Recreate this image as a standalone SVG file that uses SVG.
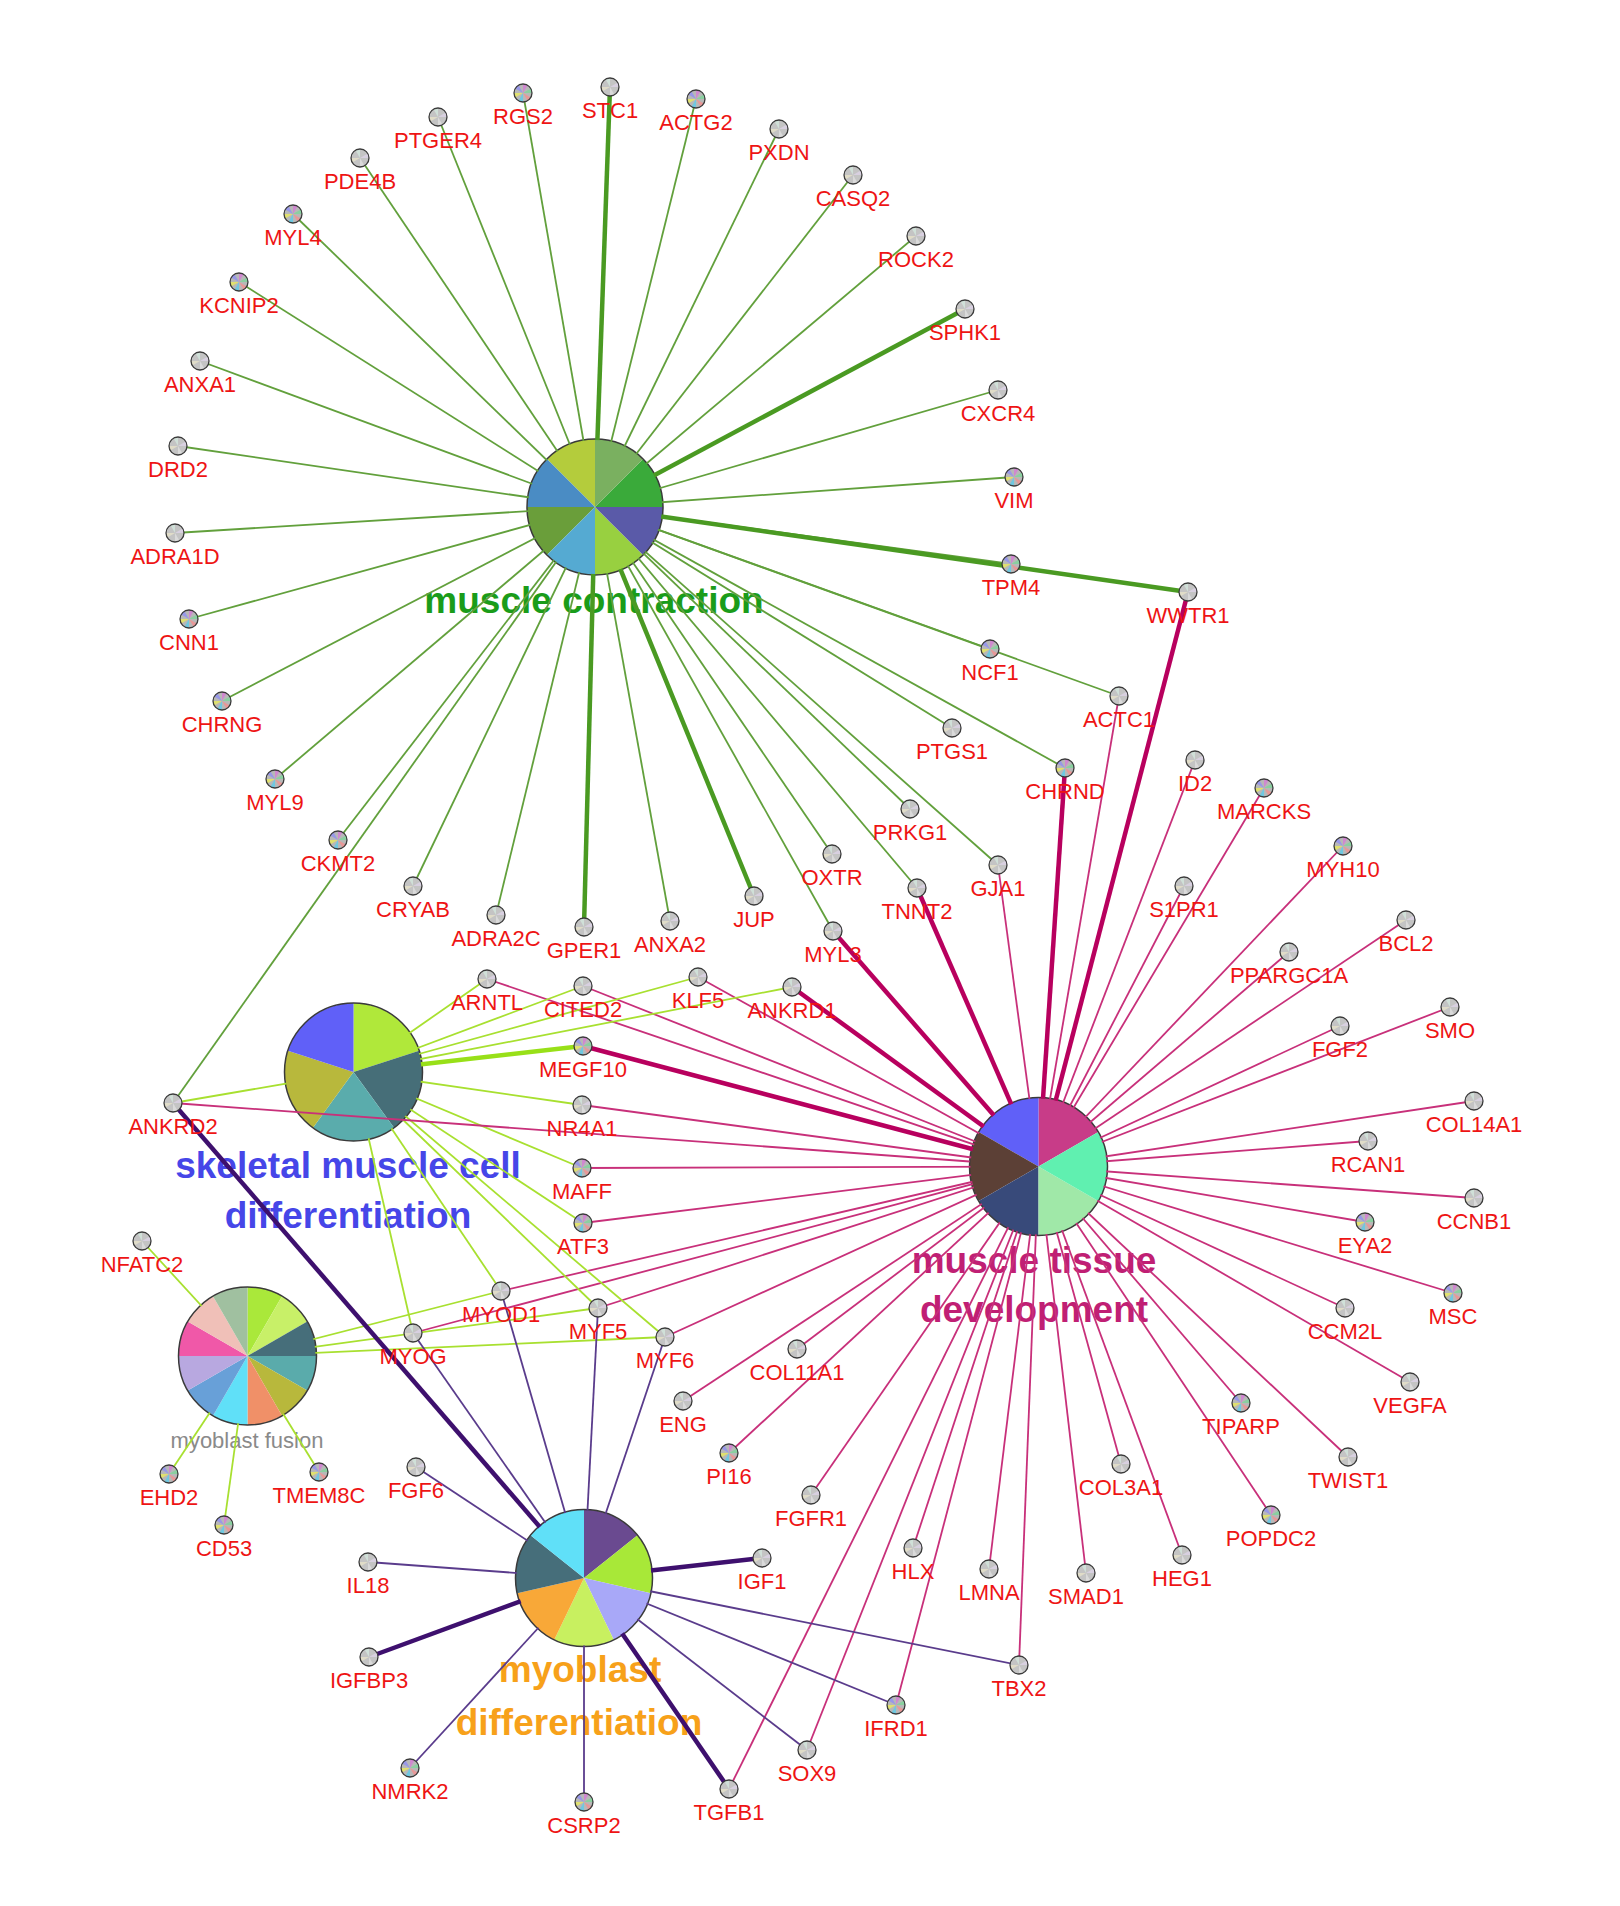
<svg xmlns="http://www.w3.org/2000/svg" xmlns:xlink="http://www.w3.org/1999/xlink" width="1620" height="1906" viewBox="0 0 1620 1906">
<style>
line{fill:none}
.mc{stroke:#62a03c;stroke-width:1.8}
.mcT{stroke:#4a9a22;stroke-width:4.5}
.mt{stroke:#c8307a;stroke-width:1.8}
.mtT{stroke:#b8005e;stroke-width:4.5}
.sk{stroke:#a8e030;stroke-width:1.8}
.skT{stroke:#98e018;stroke-width:4.5}
.md{stroke:#5a3c8c;stroke-width:1.8}
.mdT{stroke:#3e106e;stroke-width:4.5}
.mf{stroke:#a8e030;stroke-width:1.8}
.gl{font-family:"Liberation Sans",Arial,sans-serif;font-size:22px;fill:#ee1414;text-anchor:middle}
.hl{font-family:"Liberation Sans",Arial,sans-serif;font-size:37px;font-weight:bold;text-anchor:middle}
.ho{fill:none;stroke:#3a3a3a;stroke-width:1.5}
</style>
<defs>
<g id="gn">
<circle r="9" fill="#c4c4c4"/>
<path d="M0 0L9 0A9 9 0 0 0 7.79 -4.5Z" fill="#d8d0e0"/>
<path d="M0 0L0 -9A9 9 0 0 0 -4.5 -7.79Z" fill="#d0e0d8"/>
<path d="M0 0L-9 0A9 9 0 0 0 -7.79 4.5Z" fill="#e0dcc8"/>
<path d="M0 0L0 9A9 9 0 0 0 4.5 7.79Z" fill="#dadada"/>
<circle r="9" fill="none" stroke="#3a3a3a" stroke-width="1.3"/>
</g>
<g id="gc">
<circle r="9" fill="#b8b8b8"/>
<path d="M0 0L9 0A9 9 0 0 0 7.79 -4.5Z" fill="#8ad0a0"/>
<path d="M0 0L4.5 -7.79A9 9 0 0 0 0 -9Z" fill="#d088d0"/>
<path d="M0 0L-4.5 -7.79A9 9 0 0 0 -7.79 -4.5Z" fill="#9898e8"/>
<path d="M0 0L-9 0A9 9 0 0 0 -7.79 4.5Z" fill="#e0e070"/>
<path d="M0 0L-4.5 7.79A9 9 0 0 0 0 9Z" fill="#70c8e0"/>
<path d="M0 0L4.5 7.79A9 9 0 0 0 7.79 4.5Z" fill="#e89898"/>
<circle r="9" fill="none" stroke="#3a3a3a" stroke-width="1.3"/>
</g>
<mask id="hm" maskUnits="userSpaceOnUse" x="0" y="0" width="1620" height="1906">
<rect width="1620" height="1906" fill="#fff"/>
<circle cx="595" cy="507" r="67" fill="#000"/>
<circle cx="353.5" cy="1072" r="68" fill="#000"/>
<circle cx="1038.5" cy="1166.5" r="68" fill="#000"/>
<circle cx="584" cy="1578" r="67.5" fill="#000"/>
<circle cx="247.5" cy="1356" r="68" fill="#000"/>
</mask>
</defs>
<rect width="1620" height="1906" fill="#fff"/>

<g id="hub-muscle-contraction">
<g transform="translate(595 507)">
<path d="M0 0L68 0A68 68 0 0 0 48.08 -48.08Z" fill="#3aaa3a"/>
<path d="M0 0L48.08 -48.08A68 68 0 0 0 0 -68Z" fill="#7ab060"/>
<path d="M0 0L0 -68A68 68 0 0 0 -48.08 -48.08Z" fill="#b4cc3c"/>
<path d="M0 0L-48.08 -48.08A68 68 0 0 0 -68 0Z" fill="#4a8cc4"/>
<path d="M0 0L-68 0A68 68 0 0 0 -48.08 48.08Z" fill="#6a9e3a"/>
<path d="M0 0L-48.08 48.08A68 68 0 0 0 0 68Z" fill="#55aad2"/>
<path d="M0 0L0 68A68 68 0 0 0 48.08 48.08Z" fill="#98d040"/>
<path d="M0 0L48.08 48.08A68 68 0 0 0 68 0Z" fill="#5a5aa8"/>
<circle r="68" class="ho"/>
</g>
<text class="hl" x="594" y="613" fill="#1a9c1a">muscle contraction</text>
</g>

<g id="hub-skeletal-muscle-cell-differentiation">
<g transform="translate(353.5 1072)">
<path d="M0 0L65.62 -21.32A69 69 0 0 0 0 -69Z" fill="#b0e83a"/>
<path d="M0 0L40.56 55.82A69 69 0 0 0 65.62 -21.32Z" fill="#466e78"/>
<path d="M0 0L-40.56 55.82A69 69 0 0 0 40.56 55.82Z" fill="#5aacac"/>
<path d="M0 0L-65.62 -21.32A69 69 0 0 0 -40.56 55.82Z" fill="#b8b83c"/>
<path d="M0 0L0 -69A69 69 0 0 0 -65.62 -21.32Z" fill="#6060f8"/>
<circle r="69" class="ho"/>
</g>
<text class="hl" x="348" y="1178" fill="#4646e8">skeletal muscle cell</text>
<text class="hl" x="348" y="1228" fill="#4646e8">differentiation</text>
</g>

<g id="hub-muscle-tissue-development">
<g transform="translate(1038.5 1166.5)">
<path d="M0 0L59.76 -34.5A69 69 0 0 0 0 -69Z" fill="#c83c88"/>
<path d="M0 0L0 -69A69 69 0 0 0 -59.76 -34.5Z" fill="#6060f8"/>
<path d="M0 0L-59.76 -34.5A69 69 0 0 0 -59.76 34.5Z" fill="#5c4036"/>
<path d="M0 0L-59.76 34.5A69 69 0 0 0 0 69Z" fill="#384a7a"/>
<path d="M0 0L0 69A69 69 0 0 0 59.76 34.5Z" fill="#a0e8a8"/>
<path d="M0 0L59.76 34.5A69 69 0 0 0 59.76 -34.5Z" fill="#60f0b0"/>
<circle r="69" class="ho"/>
</g>
<text class="hl" x="1034" y="1273" fill="#c01f74">muscle tissue</text>
<text class="hl" x="1034" y="1322" fill="#c01f74">development</text>
</g>

<g id="hub-myoblast-differentiation">
<g transform="translate(584 1578)">
<path d="M0 0L53.53 -42.71A68.5 68.5 0 0 0 0 -68.5Z" fill="#6a4a90"/>
<path d="M0 0L66.78 15.24A68.5 68.5 0 0 0 53.53 -42.71Z" fill="#a8e838"/>
<path d="M0 0L29.72 61.72A68.5 68.5 0 0 0 66.78 15.24Z" fill="#a8a8f8"/>
<path d="M0 0L-29.72 61.72A68.5 68.5 0 0 0 29.72 61.72Z" fill="#c8f060"/>
<path d="M0 0L-66.78 15.24A68.5 68.5 0 0 0 -29.72 61.72Z" fill="#f8a838"/>
<path d="M0 0L-53.53 -42.71A68.5 68.5 0 0 0 -66.78 15.24Z" fill="#466e7a"/>
<path d="M0 0L0 -68.5A68.5 68.5 0 0 0 -53.53 -42.71Z" fill="#60e0f8"/>
<circle r="68.5" class="ho"/>
</g>
<text class="hl" x="580" y="1682" fill="#f7a11a">myoblast</text>
<text class="hl" x="579" y="1735" fill="#f7a11a">differentiation</text>
</g>

<g id="hub-myoblast-fusion">
<g transform="translate(247.5 1356)">
<path d="M0 0L34.5 -59.76A69 69 0 0 0 0 -69Z" fill="#aae83a"/>
<path d="M0 0L59.76 -34.5A69 69 0 0 0 34.5 -59.76Z" fill="#c8f068"/>
<path d="M0 0L69 0A69 69 0 0 0 59.76 -34.5Z" fill="#466e7a"/>
<path d="M0 0L59.76 34.5A69 69 0 0 0 69 0Z" fill="#5aabab"/>
<path d="M0 0L34.5 59.76A69 69 0 0 0 59.76 34.5Z" fill="#b8b83c"/>
<path d="M0 0L0 69A69 69 0 0 0 34.5 59.76Z" fill="#f09068"/>
<path d="M0 0L-34.5 59.76A69 69 0 0 0 0 69Z" fill="#60e0f8"/>
<path d="M0 0L-59.76 34.5A69 69 0 0 0 -34.5 59.76Z" fill="#68a0d8"/>
<path d="M0 0L-69 0A69 69 0 0 0 -59.76 34.5Z" fill="#b8a8e0"/>
<path d="M0 0L-59.76 -34.5A69 69 0 0 0 -69 0Z" fill="#f058a8"/>
<path d="M0 0L-34.5 -59.76A69 69 0 0 0 -59.76 -34.5Z" fill="#f0c0b8"/>
<path d="M0 0L0 -69A69 69 0 0 0 -34.5 -59.76Z" fill="#a0c0a0"/>
<circle r="69" class="ho"/>
</g>
<text x="247" y="1448" font-family="Liberation Sans, Arial, sans-serif" font-size="22" fill="#8a8a8a" text-anchor="middle">myoblast fusion</text>
</g>

<g id="connectors">
<g mask="url(#hm)">
<line class="mc" x1="595" y1="507" x2="523" y2="93"/>
<line class="mc" x1="595" y1="507" x2="696" y2="99"/>
<line class="mc" x1="595" y1="507" x2="779" y2="129"/>
<line class="mc" x1="595" y1="507" x2="853" y2="175"/>
<line class="mc" x1="595" y1="507" x2="916" y2="236"/>
<line class="mc" x1="595" y1="507" x2="998" y2="390"/>
<line class="mc" x1="595" y1="507" x2="1014" y2="477"/>
<line class="mc" x1="595" y1="507" x2="1011" y2="564"/>
<line class="mc" x1="595" y1="507" x2="990" y2="649"/>
<line class="mc" x1="595" y1="507" x2="1119" y2="696"/>
<line class="mc" x1="595" y1="507" x2="952" y2="728"/>
<line class="mc" x1="595" y1="507" x2="1065" y2="768"/>
<line class="mc" x1="595" y1="507" x2="910" y2="809"/>
<line class="mc" x1="595" y1="507" x2="998" y2="865"/>
<line class="mc" x1="595" y1="507" x2="832" y2="854"/>
<line class="mc" x1="595" y1="507" x2="917" y2="888"/>
<line class="mc" x1="595" y1="507" x2="833" y2="931"/>
<line class="mc" x1="595" y1="507" x2="670" y2="921"/>
<line class="mc" x1="595" y1="507" x2="496" y2="915"/>
<line class="mc" x1="595" y1="507" x2="413" y2="886"/>
<line class="mc" x1="595" y1="507" x2="338" y2="840"/>
<line class="mc" x1="595" y1="507" x2="173" y2="1103"/>
<line class="mc" x1="595" y1="507" x2="275" y2="779"/>
<line class="mc" x1="595" y1="507" x2="222" y2="701"/>
<line class="mc" x1="595" y1="507" x2="189" y2="619"/>
<line class="mc" x1="595" y1="507" x2="175" y2="533"/>
<line class="mc" x1="595" y1="507" x2="178" y2="446"/>
<line class="mc" x1="595" y1="507" x2="200" y2="361"/>
<line class="mc" x1="595" y1="507" x2="239" y2="282"/>
<line class="mc" x1="595" y1="507" x2="293" y2="214"/>
<line class="mc" x1="595" y1="507" x2="360" y2="158"/>
<line class="mc" x1="595" y1="507" x2="438" y2="117"/>
<line class="mcT" x1="595" y1="507" x2="610" y2="87"/>
<line class="mcT" x1="595" y1="507" x2="965" y2="309"/>
<line class="mcT" x1="595" y1="507" x2="1188" y2="592"/>
<line class="mcT" x1="595" y1="507" x2="754" y2="896"/>
<line class="mcT" x1="595" y1="507" x2="584" y2="927"/>

<line class="mt" x1="1038.5" y1="1166.5" x2="1119" y2="696"/>
<line class="mt" x1="1038.5" y1="1166.5" x2="998" y2="865"/>
<line class="mt" x1="1038.5" y1="1166.5" x2="1195" y2="760"/>
<line class="mt" x1="1038.5" y1="1166.5" x2="1264" y2="788"/>
<line class="mt" x1="1038.5" y1="1166.5" x2="1343" y2="846"/>
<line class="mt" x1="1038.5" y1="1166.5" x2="1184" y2="886"/>
<line class="mt" x1="1038.5" y1="1166.5" x2="1406" y2="920"/>
<line class="mt" x1="1038.5" y1="1166.5" x2="1289" y2="952"/>
<line class="mt" x1="1038.5" y1="1166.5" x2="1450" y2="1007"/>
<line class="mt" x1="1038.5" y1="1166.5" x2="1340" y2="1026"/>
<line class="mt" x1="1038.5" y1="1166.5" x2="1474" y2="1101"/>
<line class="mt" x1="1038.5" y1="1166.5" x2="1368" y2="1141"/>
<line class="mt" x1="1038.5" y1="1166.5" x2="1474" y2="1198"/>
<line class="mt" x1="1038.5" y1="1166.5" x2="1365" y2="1222"/>
<line class="mt" x1="1038.5" y1="1166.5" x2="1453" y2="1293"/>
<line class="mt" x1="1038.5" y1="1166.5" x2="1345" y2="1308"/>
<line class="mt" x1="1038.5" y1="1166.5" x2="1410" y2="1382"/>
<line class="mt" x1="1038.5" y1="1166.5" x2="1241" y2="1403"/>
<line class="mt" x1="1038.5" y1="1166.5" x2="1348" y2="1457"/>
<line class="mt" x1="1038.5" y1="1166.5" x2="1271" y2="1515"/>
<line class="mt" x1="1038.5" y1="1166.5" x2="1121" y2="1464"/>
<line class="mt" x1="1038.5" y1="1166.5" x2="1182" y2="1555"/>
<line class="mt" x1="1038.5" y1="1166.5" x2="1086" y2="1573"/>
<line class="mt" x1="1038.5" y1="1166.5" x2="989" y2="1569"/>
<line class="mt" x1="1038.5" y1="1166.5" x2="913" y2="1548"/>
<line class="mt" x1="1038.5" y1="1166.5" x2="1019" y2="1665"/>
<line class="mt" x1="1038.5" y1="1166.5" x2="896" y2="1705"/>
<line class="mt" x1="1038.5" y1="1166.5" x2="807" y2="1750"/>
<line class="mt" x1="1038.5" y1="1166.5" x2="729" y2="1789"/>
<line class="mt" x1="1038.5" y1="1166.5" x2="811" y2="1495"/>
<line class="mt" x1="1038.5" y1="1166.5" x2="729" y2="1453"/>
<line class="mt" x1="1038.5" y1="1166.5" x2="683" y2="1401"/>
<line class="mt" x1="1038.5" y1="1166.5" x2="797" y2="1349"/>
<line class="mt" x1="1038.5" y1="1166.5" x2="665" y2="1337"/>
<line class="mt" x1="1038.5" y1="1166.5" x2="598" y2="1308"/>
<line class="mt" x1="1038.5" y1="1166.5" x2="413" y2="1333"/>
<line class="mt" x1="1038.5" y1="1166.5" x2="501" y2="1291"/>
<line class="mt" x1="1038.5" y1="1166.5" x2="583" y2="1223"/>
<line class="mt" x1="1038.5" y1="1166.5" x2="582" y2="1168"/>
<line class="mt" x1="1038.5" y1="1166.5" x2="582" y2="1105"/>
<line class="mt" x1="1038.5" y1="1166.5" x2="583" y2="986"/>
<line class="mt" x1="1038.5" y1="1166.5" x2="698" y2="977"/>
<line class="mt" x1="1038.5" y1="1166.5" x2="487" y2="979"/>
<line class="mtT" x1="1038.5" y1="1166.5" x2="1188" y2="592"/>
<line class="mtT" x1="1038.5" y1="1166.5" x2="1065" y2="768"/>
<line class="mtT" x1="1038.5" y1="1166.5" x2="917" y2="888"/>
<line class="mtT" x1="1038.5" y1="1166.5" x2="833" y2="931"/>
<line class="mtT" x1="1038.5" y1="1166.5" x2="792" y2="987"/>
<line class="mtT" x1="1038.5" y1="1166.5" x2="583" y2="1046"/>

<line class="sk" x1="353.5" y1="1072" x2="487" y2="979"/>
<line class="sk" x1="353.5" y1="1072" x2="583" y2="986"/>
<line class="sk" x1="353.5" y1="1072" x2="698" y2="977"/>
<line class="sk" x1="353.5" y1="1072" x2="792" y2="987"/>
<line class="sk" x1="353.5" y1="1072" x2="582" y2="1105"/>
<line class="sk" x1="353.5" y1="1072" x2="582" y2="1168"/>
<line class="sk" x1="353.5" y1="1072" x2="583" y2="1223"/>
<line class="sk" x1="353.5" y1="1072" x2="665" y2="1337"/>
<line class="sk" x1="353.5" y1="1072" x2="598" y2="1308"/>
<line class="sk" x1="353.5" y1="1072" x2="501" y2="1291"/>
<line class="sk" x1="353.5" y1="1072" x2="413" y2="1333"/>
<line class="sk" x1="353.5" y1="1072" x2="173" y2="1103"/>
<line class="skT" x1="353.5" y1="1072" x2="583" y2="1046"/>

<line class="mf" x1="247.5" y1="1356" x2="142" y2="1241"/>
<line class="mf" x1="247.5" y1="1356" x2="169" y2="1474"/>
<line class="mf" x1="247.5" y1="1356" x2="224" y2="1525"/>
<line class="mf" x1="247.5" y1="1356" x2="319" y2="1472"/>
<line class="mf" x1="247.5" y1="1356" x2="501" y2="1291"/>
<line class="mf" x1="247.5" y1="1356" x2="598" y2="1308"/>
<line class="mf" x1="247.5" y1="1356" x2="665" y2="1337"/>

<line class="md" x1="584" y1="1578" x2="413" y2="1333"/>
<line class="md" x1="584" y1="1578" x2="501" y2="1291"/>
<line class="md" x1="584" y1="1578" x2="598" y2="1308"/>
<line class="md" x1="584" y1="1578" x2="665" y2="1337"/>
<line class="md" x1="584" y1="1578" x2="416" y2="1467"/>
<line class="md" x1="584" y1="1578" x2="368" y2="1562"/>
<line class="md" x1="584" y1="1578" x2="410" y2="1768"/>
<line class="md" x1="584" y1="1578" x2="584" y2="1802"/>
<line class="md" x1="584" y1="1578" x2="807" y2="1750"/>
<line class="md" x1="584" y1="1578" x2="896" y2="1705"/>
<line class="md" x1="584" y1="1578" x2="1019" y2="1665"/>
<line class="mdT" x1="584" y1="1578" x2="173" y2="1103"/>
<line class="mdT" x1="584" y1="1578" x2="369" y2="1657"/>
<line class="mdT" x1="584" y1="1578" x2="729" y2="1789"/>
<line class="mdT" x1="584" y1="1578" x2="762" y2="1558"/>
</g>
<line class="mt" x1="969.7" y1="1161.5" x2="173" y2="1103"/>
</g>

<g id="genes">
<g id="n-RGS2"><use href="#gc" x="523" y="93"/><text class="gl" x="523" y="124">RGS2</text></g>
<g id="n-STC1"><use href="#gn" x="610" y="87"/><text class="gl" x="610" y="118">STC1</text></g>
<g id="n-ACTG2"><use href="#gc" x="696" y="99"/><text class="gl" x="696" y="130">ACTG2</text></g>
<g id="n-PXDN"><use href="#gn" x="779" y="129"/><text class="gl" x="779" y="160">PXDN</text></g>
<g id="n-CASQ2"><use href="#gn" x="853" y="175"/><text class="gl" x="853" y="206">CASQ2</text></g>
<g id="n-ROCK2"><use href="#gn" x="916" y="236"/><text class="gl" x="916" y="267">ROCK2</text></g>
<g id="n-SPHK1"><use href="#gn" x="965" y="309"/><text class="gl" x="965" y="340">SPHK1</text></g>
<g id="n-CXCR4"><use href="#gn" x="998" y="390"/><text class="gl" x="998" y="421">CXCR4</text></g>
<g id="n-VIM"><use href="#gc" x="1014" y="477"/><text class="gl" x="1014" y="508">VIM</text></g>
<g id="n-TPM4"><use href="#gc" x="1011" y="564"/><text class="gl" x="1011" y="595">TPM4</text></g>
<g id="n-WWTR1"><use href="#gn" x="1188" y="592"/><text class="gl" x="1188" y="623">WWTR1</text></g>
<g id="n-NCF1"><use href="#gc" x="990" y="649"/><text class="gl" x="990" y="680">NCF1</text></g>
<g id="n-ACTC1"><use href="#gn" x="1119" y="696"/><text class="gl" x="1119" y="727">ACTC1</text></g>
<g id="n-PTGS1"><use href="#gn" x="952" y="728"/><text class="gl" x="952" y="759">PTGS1</text></g>
<g id="n-CHRND"><use href="#gc" x="1065" y="768"/><text class="gl" x="1065" y="799">CHRND</text></g>
<g id="n-PRKG1"><use href="#gn" x="910" y="809"/><text class="gl" x="910" y="840">PRKG1</text></g>
<g id="n-OXTR"><use href="#gn" x="832" y="854"/><text class="gl" x="832" y="885">OXTR</text></g>
<g id="n-GJA1"><use href="#gn" x="998" y="865"/><text class="gl" x="998" y="896">GJA1</text></g>
<g id="n-TNNT2"><use href="#gn" x="917" y="888"/><text class="gl" x="917" y="919">TNNT2</text></g>
<g id="n-JUP"><use href="#gn" x="754" y="896"/><text class="gl" x="754" y="927">JUP</text></g>
<g id="n-ANXA2"><use href="#gn" x="670" y="921"/><text class="gl" x="670" y="952">ANXA2</text></g>
<g id="n-MYL3"><use href="#gn" x="833" y="931"/><text class="gl" x="833" y="962">MYL3</text></g>
<g id="n-GPER1"><use href="#gn" x="584" y="927"/><text class="gl" x="584" y="958">GPER1</text></g>
<g id="n-ADRA2C"><use href="#gn" x="496" y="915"/><text class="gl" x="496" y="946">ADRA2C</text></g>
<g id="n-CRYAB"><use href="#gn" x="413" y="886"/><text class="gl" x="413" y="917">CRYAB</text></g>
<g id="n-CKMT2"><use href="#gc" x="338" y="840"/><text class="gl" x="338" y="871">CKMT2</text></g>
<g id="n-MYL9"><use href="#gc" x="275" y="779"/><text class="gl" x="275" y="810">MYL9</text></g>
<g id="n-CHRNG"><use href="#gc" x="222" y="701"/><text class="gl" x="222" y="732">CHRNG</text></g>
<g id="n-CNN1"><use href="#gc" x="189" y="619"/><text class="gl" x="189" y="650">CNN1</text></g>
<g id="n-ADRA1D"><use href="#gn" x="175" y="533"/><text class="gl" x="175" y="564">ADRA1D</text></g>
<g id="n-DRD2"><use href="#gn" x="178" y="446"/><text class="gl" x="178" y="477">DRD2</text></g>
<g id="n-ANXA1"><use href="#gn" x="200" y="361"/><text class="gl" x="200" y="392">ANXA1</text></g>
<g id="n-KCNIP2"><use href="#gc" x="239" y="282"/><text class="gl" x="239" y="313">KCNIP2</text></g>
<g id="n-MYL4"><use href="#gc" x="293" y="214"/><text class="gl" x="293" y="245">MYL4</text></g>
<g id="n-PDE4B"><use href="#gn" x="360" y="158"/><text class="gl" x="360" y="189">PDE4B</text></g>
<g id="n-PTGER4"><use href="#gn" x="438" y="117"/><text class="gl" x="438" y="148">PTGER4</text></g>
<g id="n-ID2"><use href="#gn" x="1195" y="760"/><text class="gl" x="1195" y="791">ID2</text></g>
<g id="n-MARCKS"><use href="#gc" x="1264" y="788"/><text class="gl" x="1264" y="819">MARCKS</text></g>
<g id="n-MYH10"><use href="#gc" x="1343" y="846"/><text class="gl" x="1343" y="877">MYH10</text></g>
<g id="n-S1PR1"><use href="#gn" x="1184" y="886"/><text class="gl" x="1184" y="917">S1PR1</text></g>
<g id="n-BCL2"><use href="#gn" x="1406" y="920"/><text class="gl" x="1406" y="951">BCL2</text></g>
<g id="n-PPARGC1A"><use href="#gn" x="1289" y="952"/><text class="gl" x="1289" y="983">PPARGC1A</text></g>
<g id="n-SMO"><use href="#gn" x="1450" y="1007"/><text class="gl" x="1450" y="1038">SMO</text></g>
<g id="n-FGF2"><use href="#gn" x="1340" y="1026"/><text class="gl" x="1340" y="1057">FGF2</text></g>
<g id="n-COL14A1"><use href="#gn" x="1474" y="1101"/><text class="gl" x="1474" y="1132">COL14A1</text></g>
<g id="n-RCAN1"><use href="#gn" x="1368" y="1141"/><text class="gl" x="1368" y="1172">RCAN1</text></g>
<g id="n-CCNB1"><use href="#gn" x="1474" y="1198"/><text class="gl" x="1474" y="1229">CCNB1</text></g>
<g id="n-EYA2"><use href="#gc" x="1365" y="1222"/><text class="gl" x="1365" y="1253">EYA2</text></g>
<g id="n-MSC"><use href="#gc" x="1453" y="1293"/><text class="gl" x="1453" y="1324">MSC</text></g>
<g id="n-CCM2L"><use href="#gn" x="1345" y="1308"/><text class="gl" x="1345" y="1339">CCM2L</text></g>
<g id="n-VEGFA"><use href="#gn" x="1410" y="1382"/><text class="gl" x="1410" y="1413">VEGFA</text></g>
<g id="n-TIPARP"><use href="#gc" x="1241" y="1403"/><text class="gl" x="1241" y="1434">TIPARP</text></g>
<g id="n-TWIST1"><use href="#gn" x="1348" y="1457"/><text class="gl" x="1348" y="1488">TWIST1</text></g>
<g id="n-POPDC2"><use href="#gc" x="1271" y="1515"/><text class="gl" x="1271" y="1546">POPDC2</text></g>
<g id="n-COL3A1"><use href="#gn" x="1121" y="1464"/><text class="gl" x="1121" y="1495">COL3A1</text></g>
<g id="n-HEG1"><use href="#gn" x="1182" y="1555"/><text class="gl" x="1182" y="1586">HEG1</text></g>
<g id="n-SMAD1"><use href="#gn" x="1086" y="1573"/><text class="gl" x="1086" y="1604">SMAD1</text></g>
<g id="n-LMNA"><use href="#gn" x="989" y="1569"/><text class="gl" x="989" y="1600">LMNA</text></g>
<g id="n-HLX"><use href="#gn" x="913" y="1548"/><text class="gl" x="913" y="1579">HLX</text></g>
<g id="n-TBX2"><use href="#gn" x="1019" y="1665"/><text class="gl" x="1019" y="1696">TBX2</text></g>
<g id="n-IFRD1"><use href="#gc" x="896" y="1705"/><text class="gl" x="896" y="1736">IFRD1</text></g>
<g id="n-SOX9"><use href="#gn" x="807" y="1750"/><text class="gl" x="807" y="1781">SOX9</text></g>
<g id="n-TGFB1"><use href="#gn" x="729" y="1789"/><text class="gl" x="729" y="1820">TGFB1</text></g>
<g id="n-CSRP2"><use href="#gc" x="584" y="1802"/><text class="gl" x="584" y="1833">CSRP2</text></g>
<g id="n-NMRK2"><use href="#gc" x="410" y="1768"/><text class="gl" x="410" y="1799">NMRK2</text></g>
<g id="n-IGFBP3"><use href="#gn" x="369" y="1657"/><text class="gl" x="369" y="1688">IGFBP3</text></g>
<g id="n-IL18"><use href="#gn" x="368" y="1562"/><text class="gl" x="368" y="1593">IL18</text></g>
<g id="n-FGF6"><use href="#gn" x="416" y="1467"/><text class="gl" x="416" y="1498">FGF6</text></g>
<g id="n-IGF1"><use href="#gn" x="762" y="1558"/><text class="gl" x="762" y="1589">IGF1</text></g>
<g id="n-FGFR1"><use href="#gn" x="811" y="1495"/><text class="gl" x="811" y="1526">FGFR1</text></g>
<g id="n-PI16"><use href="#gc" x="729" y="1453"/><text class="gl" x="729" y="1484">PI16</text></g>
<g id="n-ENG"><use href="#gn" x="683" y="1401"/><text class="gl" x="683" y="1432">ENG</text></g>
<g id="n-COL11A1"><use href="#gn" x="797" y="1349"/><text class="gl" x="797" y="1380">COL11A1</text></g>
<g id="n-MYF6"><use href="#gn" x="665" y="1337"/><text class="gl" x="665" y="1368">MYF6</text></g>
<g id="n-MYF5"><use href="#gn" x="598" y="1308"/><text class="gl" x="598" y="1339">MYF5</text></g>
<g id="n-MYOG"><use href="#gn" x="413" y="1333"/><text class="gl" x="413" y="1364">MYOG</text></g>
<g id="n-MYOD1"><use href="#gn" x="501" y="1291"/><text class="gl" x="501" y="1322">MYOD1</text></g>
<g id="n-ATF3"><use href="#gc" x="583" y="1223"/><text class="gl" x="583" y="1254">ATF3</text></g>
<g id="n-MAFF"><use href="#gc" x="582" y="1168"/><text class="gl" x="582" y="1199">MAFF</text></g>
<g id="n-NR4A1"><use href="#gn" x="582" y="1105"/><text class="gl" x="582" y="1136">NR4A1</text></g>
<g id="n-MEGF10"><use href="#gc" x="583" y="1046"/><text class="gl" x="583" y="1077">MEGF10</text></g>
<g id="n-CITED2"><use href="#gn" x="583" y="986"/><text class="gl" x="583" y="1017">CITED2</text></g>
<g id="n-KLF5"><use href="#gn" x="698" y="977"/><text class="gl" x="698" y="1008">KLF5</text></g>
<g id="n-ANKRD1"><use href="#gn" x="792" y="987"/><text class="gl" x="792" y="1018">ANKRD1</text></g>
<g id="n-ARNTL"><use href="#gn" x="487" y="979"/><text class="gl" x="487" y="1010">ARNTL</text></g>
<g id="n-ANKRD2"><use href="#gn" x="173" y="1103"/><text class="gl" x="173" y="1134">ANKRD2</text></g>
<g id="n-NFATC2"><use href="#gn" x="142" y="1241"/><text class="gl" x="142" y="1272">NFATC2</text></g>
<g id="n-EHD2"><use href="#gc" x="169" y="1474"/><text class="gl" x="169" y="1505">EHD2</text></g>
<g id="n-CD53"><use href="#gc" x="224" y="1525"/><text class="gl" x="224" y="1556">CD53</text></g>
<g id="n-TMEM8C"><use href="#gc" x="319" y="1472"/><text class="gl" x="319" y="1503">TMEM8C</text></g>
</g>
</svg>
